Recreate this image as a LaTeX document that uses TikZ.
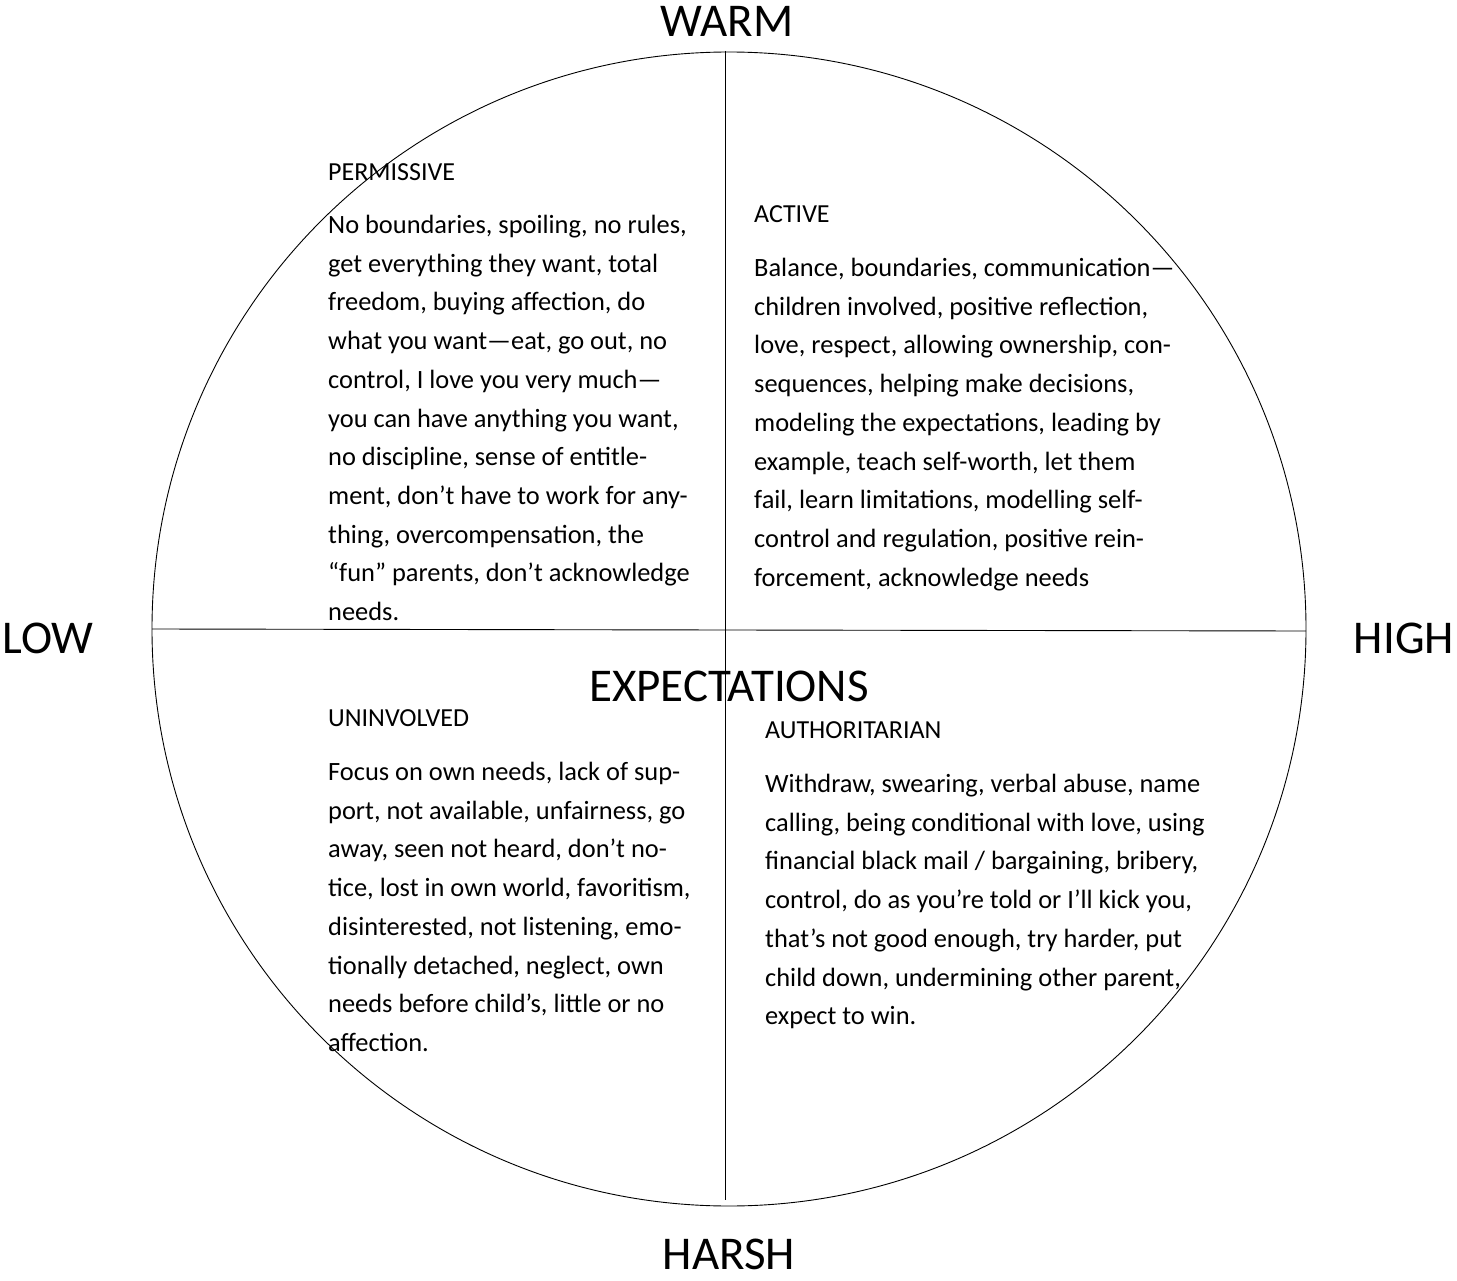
\documentclass[tikz,border=0pt]{standalone}
\usepackage{fontspec}
\setmainfont{Carlito}
\begin{document}
\begin{tikzpicture}[x=1pt,y=-1pt,
  axis/.style={draw=black,line width=0.9pt},
  pole/.style={font=\fontsize{47}{52}\selectfont,inner sep=0},
  head/.style={anchor=base west,inner sep=0,font=\fontsize{26}{30}\selectfont},
  body/.style={anchor=north west,inner sep=0,align=left,font=\fontsize{26.4}{38.7}\selectfont}]
\useasboundingbox (0,0) rectangle (1457,1281);
\node[circle,draw=black,line width=0.9pt,minimum size=1154pt,inner sep=0] (c) at (729,629) {};
\coordinate (t) at (725,51);
\coordinate (b) at (725,1200);
\coordinate (l) at (152,629);
\coordinate (r) at (1306,631);
\draw[axis] (t) -- (b);
\draw[axis] (l) -- (r);
\node[pole] (warm) at (727,21) {WARM};
\node[pole] (harsh) at (729,1254) {HARSH};
\node[pole] (low) at (48,638) {LOW};
\node[pole] (high) at (1404,638) {HIGH};
\node[pole] (exp) at (729,686) {EXPECTATIONS};
% Permissive
\node[head] (ph) at (328,181) {PERMISSIVE};
\node[body] (pb) at (328,215) {No boundaries, spoiling, no rules,\\
get everything they want, total\\
freedom, buying affection, do\\
what you want—eat, go out, no\\
control, I love you very much—\\
you can have anything you want,\\
no discipline, sense of entitle-\\
ment, don’t have to work for any-\\
thing, overcompensation, the\\
“fun” parents, don’t acknowledge\\
needs.};
% Active
\node[head] (ah) at (754,223) {ACTIVE};
\node[body] (ab) at (754,258) {Balance, boundaries, communication—\\
children involved, positive reflection,\\
love, respect, allowing ownership, con-\\
sequences, helping make decisions,\\
modeling the expectations, leading by\\
example, teach self-worth, let them\\
fail, learn limitations, modelling self-\\
control and regulation, positive rein-\\
forcement, acknowledge needs};
% Uninvolved
\node[head] (uh) at (328,726) {UNINVOLVED};
\node[body] (ub) at (328,762) {Focus on own needs, lack of sup-\\
port, not available, unfairness, go\\
away, seen not heard, don’t no-\\
tice, lost in own world, favoritism,\\
disinterested, not listening, emo-\\
tionally detached, neglect, own\\
needs before child’s, little or no\\
affection.};
% Authoritarian
\node[head] (th) at (765,738) {AUTHORITARIAN};
\node[body] (tb) at (765,774) {Withdraw, swearing, verbal abuse, name\\
calling, being conditional with love, using\\
financial black mail / bargaining, bribery,\\
control, do as you’re told or I’ll kick you,\\
that’s not good enough, try harder, put\\
child down, undermining other parent,\\
expect to win.};
\end{tikzpicture}
\end{document}
